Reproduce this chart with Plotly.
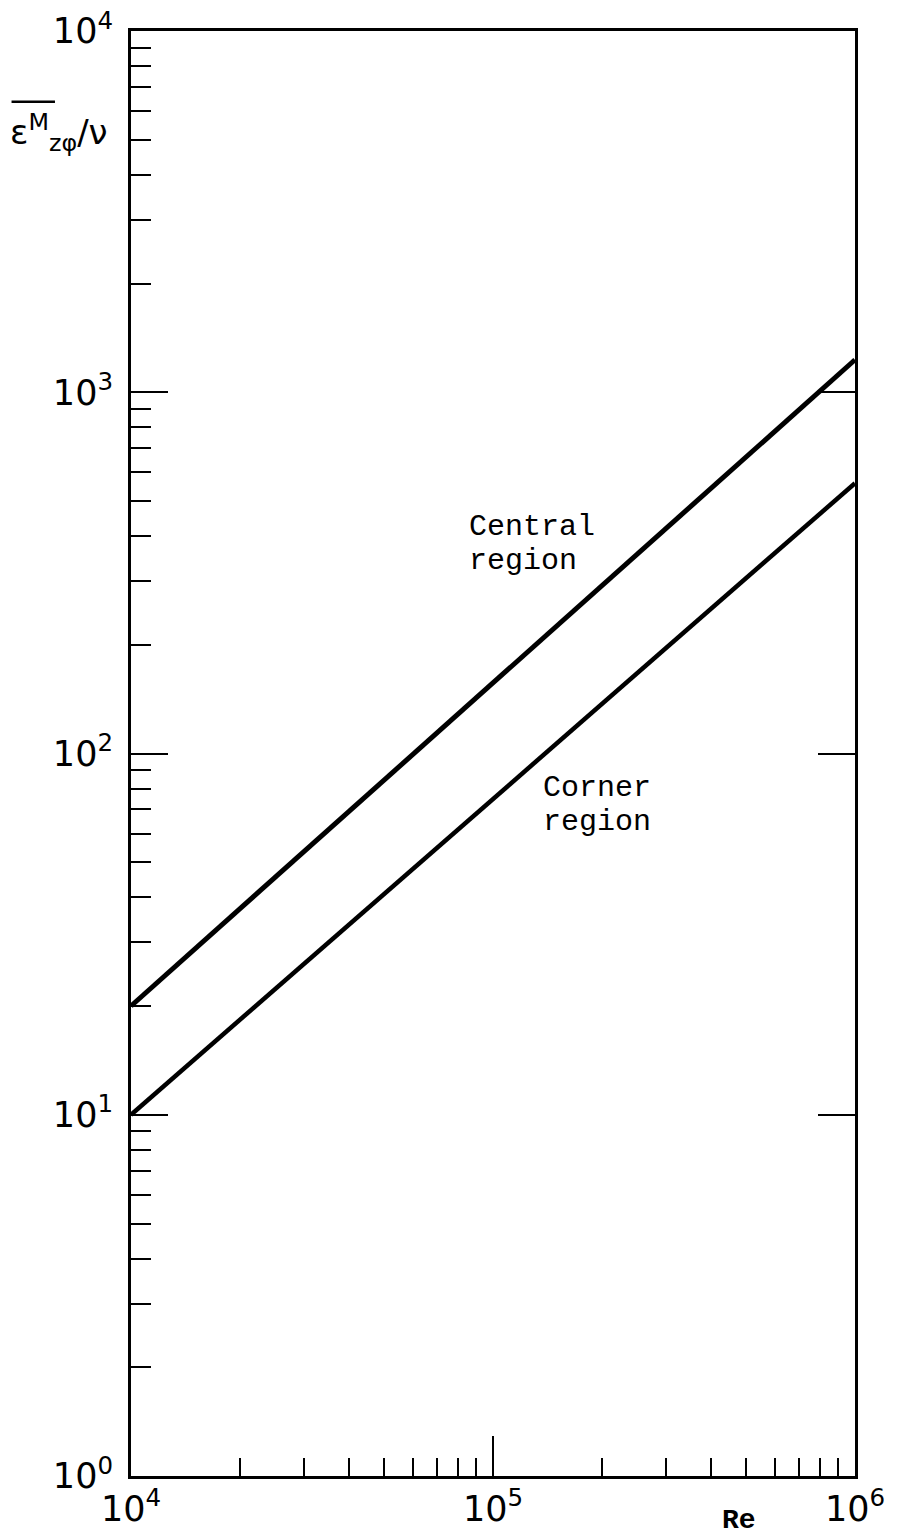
import plotly.graph_objects as go

# Reynolds number range and eddy diffusivity values for the two regions
re_values = [1e4, 1e6]
central_region = [20, 1230]
corner_region = [10, 560]

y_major = [1, 10, 100, 1000, 10000]
y_major_text = ["10<sup>0</sup>", "10<sup>1</sup>", "10<sup>2</sup>", "10<sup>3</sup>", "10<sup>4</sup>"]
x_major = [1e4, 1e5, 1e6]
x_major_text = ["10<sup>4</sup>", "10<sup>5</sup>", "10<sup>6</sup>"]
minor_mult = [2, 3, 4, 5, 6, 7, 8, 9]

y_minor = [m * 10 ** d for d in range(0, 4) for m in minor_mult]
x_minor = [m * 10 ** d for d in range(4, 6) for m in minor_mult]

ink = "black"
tick_font = dict(family="DejaVu Sans", size=35, color=ink)
mono_font = dict(family="Liberation Mono", size=30, color=ink)

fig = go.Figure()
fig.add_trace(go.Scatter(x=re_values, y=central_region, mode="lines",
                         line=dict(color=ink, width=5), showlegend=False))
fig.add_trace(go.Scatter(x=re_values, y=corner_region, mode="lines",
                         line=dict(color=ink, width=4.5), showlegend=False))
# invisible trace to carry the right-hand tick axis
fig.add_trace(go.Scatter(x=re_values, y=[1, 1], yaxis="y2", mode="lines",
                         line=dict(width=0), hoverinfo="skip", showlegend=False))

fig.update_layout(
    width=897, height=1536,
    margin=dict(l=131, r=42, t=31, b=60, autoexpand=False),
    paper_bgcolor="white", plot_bgcolor="white",
    xaxis=dict(type="log", range=[4, 6], showgrid=False, zeroline=False,
               showline=True, linecolor=ink, linewidth=3, mirror=True,
               automargin=False,
               tickmode="array", tickvals=x_major, ticktext=x_major_text,
               ticks="inside", ticklen=40, tickwidth=2, tickcolor=ink,
               tickfont=tick_font,
               minor=dict(tickmode="array", tickvals=x_minor, ticks="inside",
                          ticklen=18, tickwidth=2, tickcolor=ink, showgrid=False)),
    yaxis=dict(type="log", range=[0, 4], showgrid=False, zeroline=False,
               showline=True, linecolor=ink, linewidth=3, mirror=True,
               automargin=False,
               tickmode="array", tickvals=y_major, ticktext=y_major_text,
               ticks="inside", ticklen=37, tickwidth=2, tickcolor=ink,
               tickfont=tick_font, ticklabelstandoff=8,
               minor=dict(tickmode="array", tickvals=y_minor, ticks="inside",
                          ticklen=20, tickwidth=2, tickcolor=ink, showgrid=False)),
    yaxis2=dict(type="log", range=[0, 4], overlaying="y", side="right",
                showgrid=False, zeroline=False, showline=False, automargin=False,
                tickmode="array", tickvals=[10, 100, 1000],
                ticks="inside", ticklen=37, tickwidth=2, tickcolor=ink,
                showticklabels=False),
    showlegend=False,
)


def region_line(text, x, y):
    return dict(x=x, y=y, xref="paper", yref="paper", text=text, borderpad=0,
                showarrow=False, xanchor="left", yanchor="middle", font=mono_font)


annotations = [
    region_line("Central", 0.466, 0.6567),
    region_line("region", 0.466, 0.6332),
    region_line("Corner", 0.567, 0.4761),
    region_line("region", 0.567, 0.4526),
    dict(x=0.84, y=-0.0425, xref="paper", yref="paper", text="<b>Re</b>",
         showarrow=False, xanchor="center", yanchor="bottom", borderpad=0,
         font=dict(family="Liberation Mono", size=28, color=ink)),
    dict(x=-0.1, y=0.93, xref="paper", yref="paper",
         text="ε<sup>M</sup><sub>zφ</sub>/ν",
         showarrow=False, xanchor="center", yanchor="middle",
         font=dict(family="DejaVu Sans", size=34, color=ink)),
]
fig.update_layout(annotations=annotations)

# overline above the diffusivity symbol
fig.add_shape(type="line", xref="paper", yref="paper",
              x0=-0.165, x1=-0.105, y0=0.951, y1=0.951,
              line=dict(color=ink, width=2.5))

fig.write_html("out.html")
